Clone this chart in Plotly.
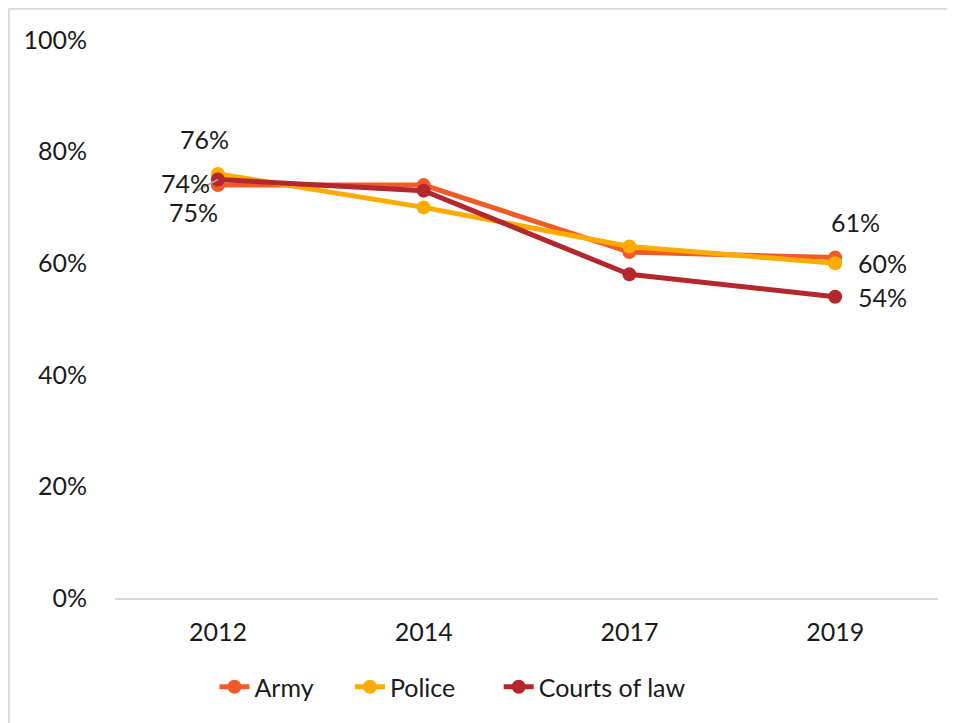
import plotly.graph_objects as go

years = ["2012", "2014", "2017", "2019"]
army = [74, 74, 62, 61]
police = [76, 70, 63, 60]
courts = [75, 73, 58, 54]
y_ticks = [0, 20, 40, 60, 80, 100]
y_tick_text = ["0%", "20%", "40%", "60%", "80%", "100%"]

colors = {"Army": "#F15A29", "Police": "#FDAB00", "Courts of law": "#B3272D"}
FONT = "Lato"
FS = 25
TXT = "#1a1a1a"
NB = "\u00a0"

fig = go.Figure()
series = [("Army", army, NB * 5), ("Police", police, NB * 6), ("Courts of law", courts, "")]
for name, vals, pad in series:
    fig.add_trace(go.Scatter(
        x=years, y=vals, name=name + pad, mode="lines+markers",
        line=dict(color=colors[name], width=5),
        marker=dict(color=colors[name], size=14),
    ))

first, last = 0, len(years) - 1

def label(i, y, xs, ys):
    fig.add_annotation(x=i, y=y, xref="x", yref="y", text=f"{y}%", showarrow=False,
                       xshift=xs, yshift=ys, font=dict(family=FONT, size=FS, color=TXT))

# leader line for the 74% label
fig.add_annotation(x=first, y=courts[first], xref="x", yref="y", ax=-26, ay=14, text=" ",
                   showarrow=True, arrowhead=0, arrowwidth=1.8, arrowcolor="#a6a6a6", standoff=0)
label(first, police[first], -13, 35)
label(first, army[first], -32, 2)
label(first, courts[first], -24, -32)
label(last, army[last], 20, 36)
label(last, police[last], 47, 0)
label(last, courts[last], 47, 0)

# chart border (top and left, as in the reference)
fig.add_shape(type="line", xref="paper", yref="paper", x0=-0.1294, x1=1.03, y0=1.0565, y1=1.0565,
              line=dict(color="#d9d9d9", width=2.5))
fig.add_shape(type="line", xref="paper", yref="paper", x0=-0.1294, x1=-0.1294, y0=-0.3, y1=1.0565,
              line=dict(color="#d9d9d9", width=2.5))

fig.update_layout(
    width=947, height=715,
    margin=dict(l=107, r=17, t=32, b=125),
    paper_bgcolor="white", plot_bgcolor="white",
    font=dict(family=FONT, size=FS, color=TXT),
    showlegend=True,
    legend=dict(orientation="h", x=0.41, xanchor="center", y=-0.1595, yanchor="middle",
                font=dict(family=FONT, size=FS, color=TXT),
                traceorder="normal", tracegroupgap=0),
    xaxis=dict(type="category", range=[-0.5, 3.5], showgrid=False, showline=True,
               linecolor="#d9d9d9", linewidth=1.5, ticks="", ticklabelstandoff=11,
               zeroline=False, fixedrange=True),
    yaxis=dict(range=[0, 100], tickvals=y_ticks, ticktext=y_tick_text, showgrid=False,
               zeroline=False, showline=False, ticks="", ticklabelstandoff=27, fixedrange=True),
)

fig.write_html("out.html")
